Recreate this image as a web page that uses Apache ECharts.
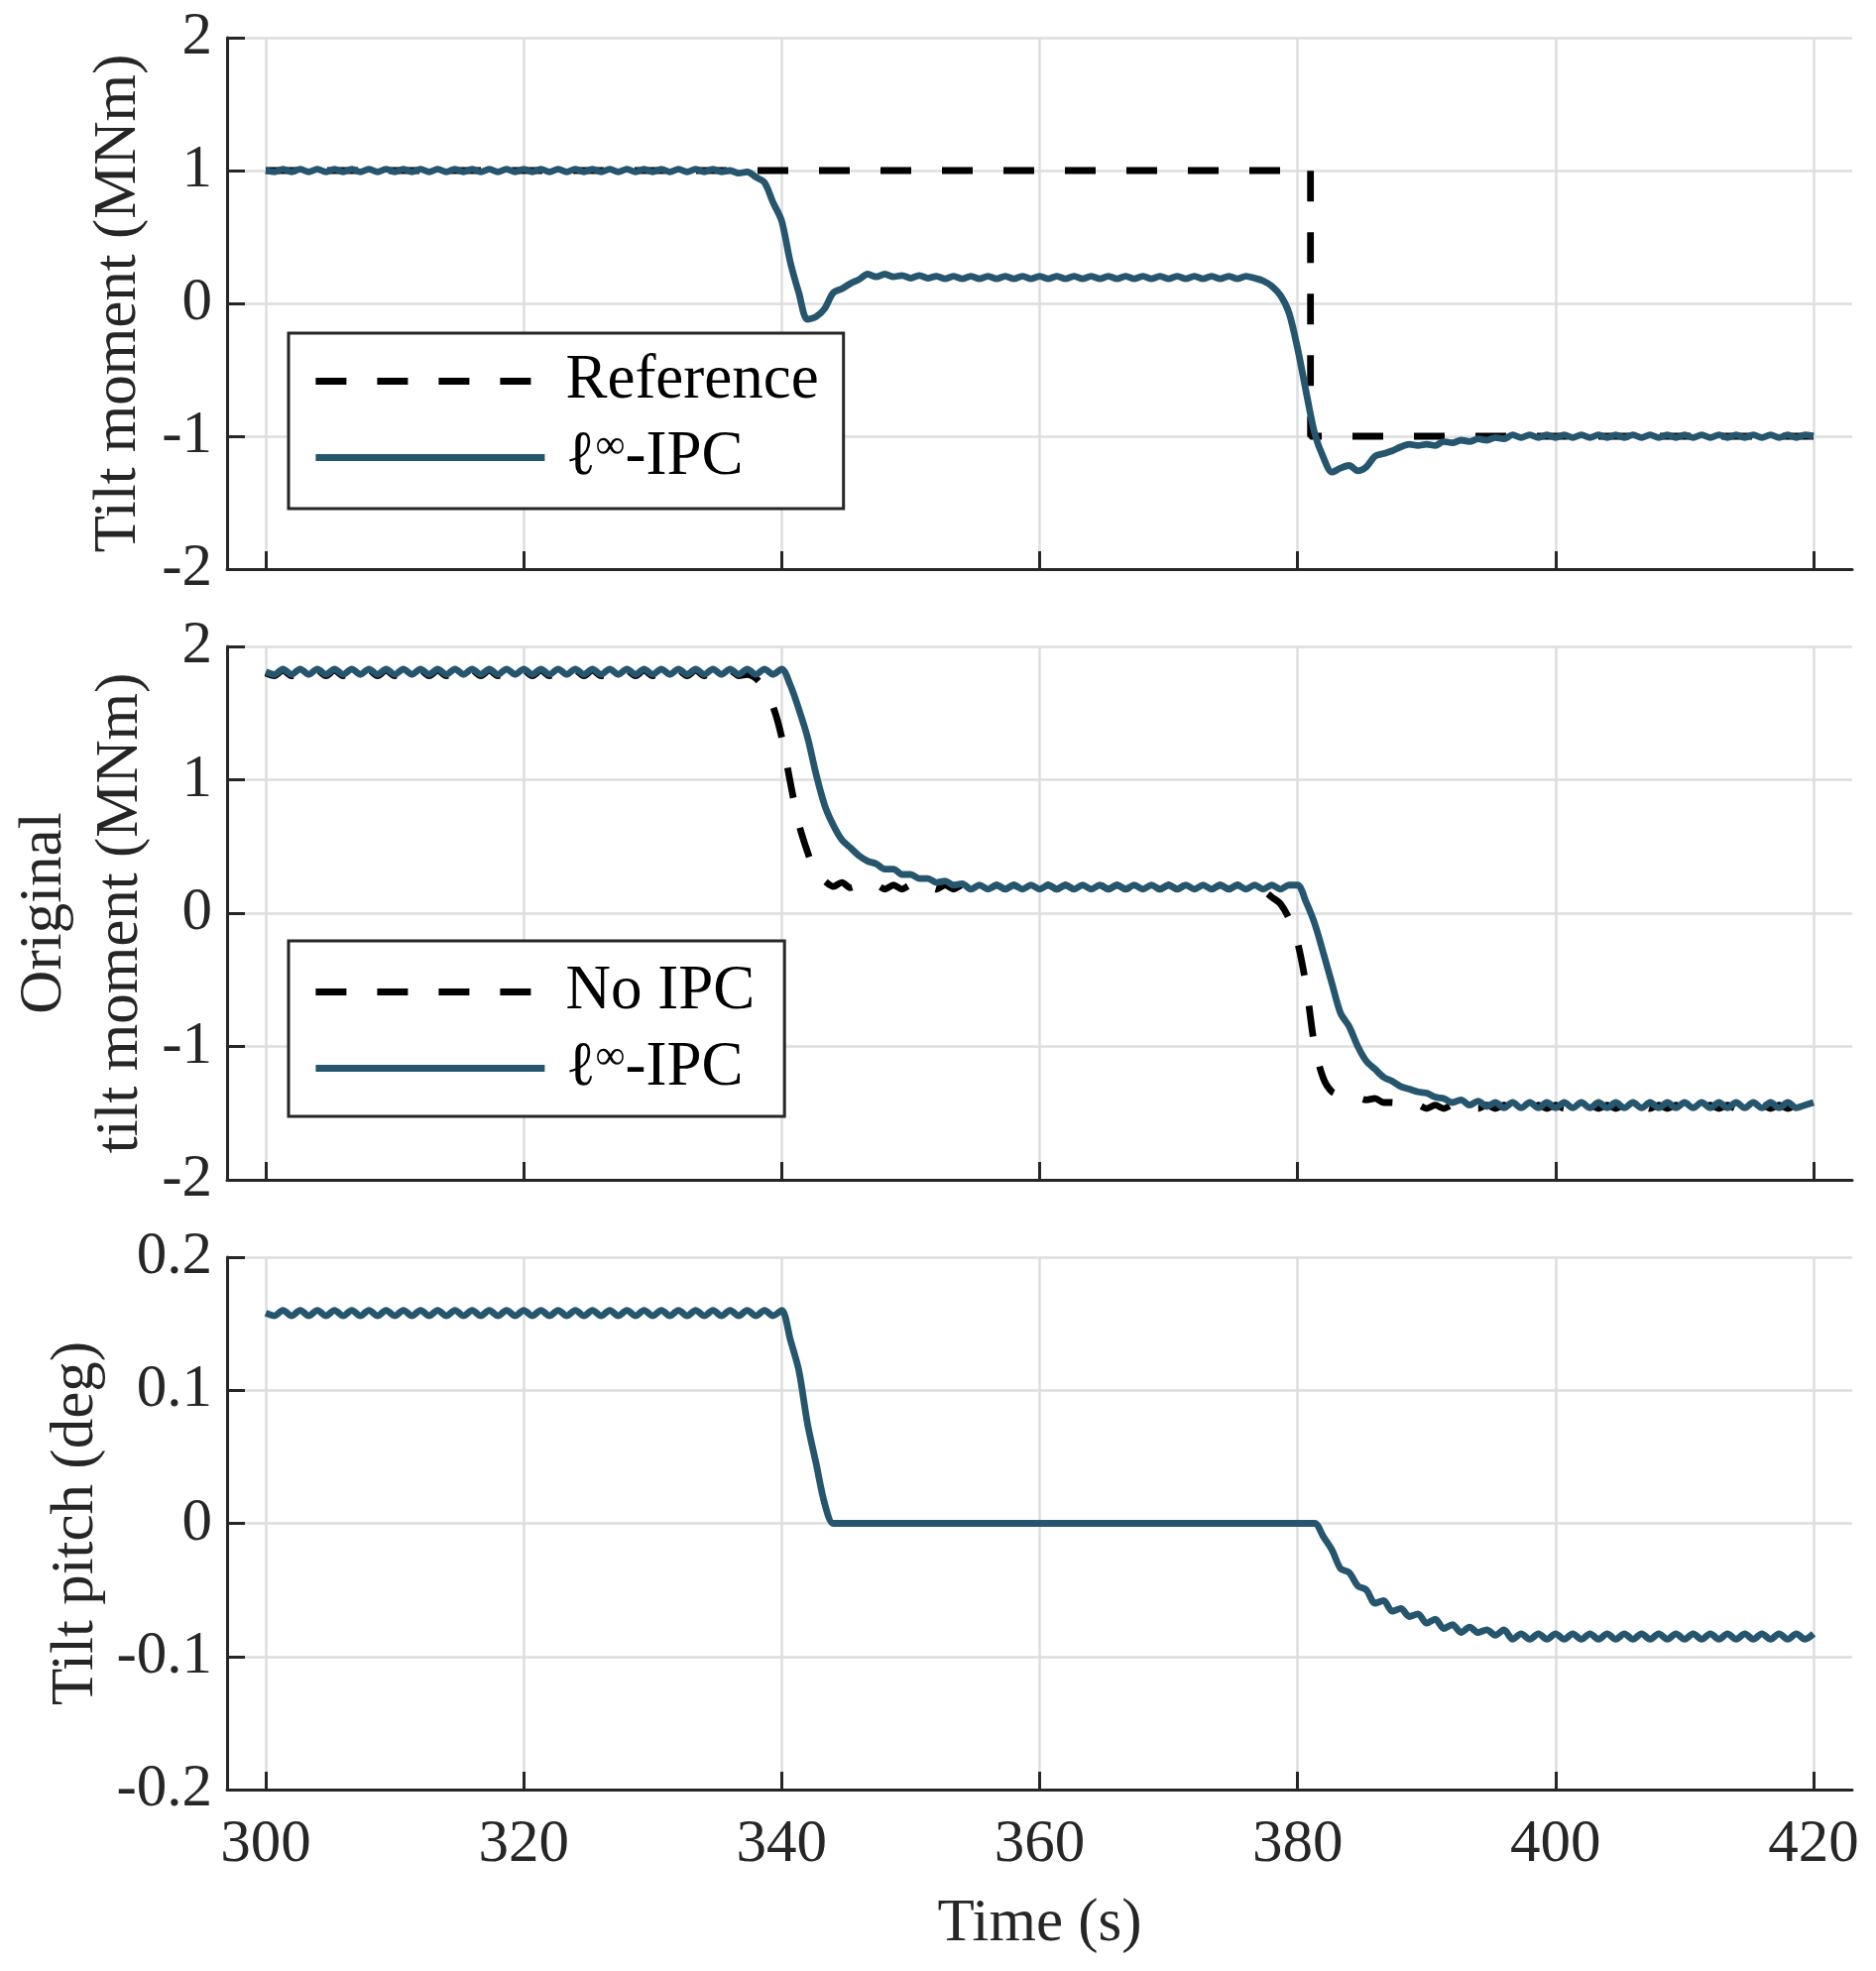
<!DOCTYPE html>
<html><head><meta charset="utf-8">
<script src="https://cdn.jsdelivr.net/npm/echarts@6/dist/echarts.min.js"></script>
<style>html,body{margin:0;padding:0;background:#fff}#c{width:1892px;height:1988px}</style>
</head><body><div id="c"></div>
<script>
// sample times (s)
const time = [
300,300.67,301.33,302,302.67,303.33,304,304.67,305.33,306,306.67,307.33,308,308.67,309.33,310,310.67,311.33,312,312.67,313.33,314,314.67,315.33,316,316.67,317.33,318,318.67,319.33,320,
320.67,321.33,322,322.67,323.33,324,324.67,325.33,326,326.67,327.33,328,328.67,329.33,330,330.67,331.33,332,332.67,333.33,334,334.67,335.33,336,336.67,337.33,338,338.67,339.33,340,
340.67,341.33,342,342.67,343.33,344,344.67,345.33,346,346.67,347.33,348,348.67,349.33,350,350.67,351.33,352,352.67,353.33,354,354.67,355.33,356,356.67,357.33,358,358.67,359.33,360,
360.67,361.33,362,362.67,363.33,364,364.67,365.33,366,366.67,367.33,368,368.67,369.33,370,370.67,371.33,372,372.67,373.33,374,374.67,375.33,376,376.67,377.33,378,378.67,379.33,380,
380.67,381.33,382,382.67,383.33,384,384.67,385.33,386,386.67,387.33,388,388.67,389.33,390,390.67,391.33,392,392.67,393.33,394,394.67,395.33,396,396.67,397.33,398,398.67,399.33,400,
400.67,401.33,402,402.67,403.33,404,404.67,405.33,406,406.67,407.33,408,408.67,409.33,410,410.67,411.33,412,412.67,413.33,414,414.67,415.33,416,416.67,417.33,418,418.67,419.33,420
];
// Panel 1: tilt moment reference (MNm)
const p1RefTime = [300, 381, 381, 420];
const p1RefValue = [1, 1, -1, -1];
// Panel 1: tilt moment with l-inf IPC (MNm)
const p1Ipc = [
1.00,
0.99,1.01,0.99,1.01,0.99,1.01,0.99,1.01,0.99,1.01,
0.99,1.01,0.99,1.01,0.99,1.01,0.99,1.01,0.99,1.01,
0.99,1.01,0.99,1.01,0.99,1.01,0.99,1.01,0.99,1.01,
0.99,1.01,0.99,1.01,0.99,1.01,0.99,1.01,0.99,1.01,
0.99,1.01,0.99,1.01,0.99,1.01,0.99,1.01,0.99,1.01,
0.99,1.01,0.99,
1.00,0.98,0.99,0.95,0.91,0.76,0.62,
0.31,0.08,-0.12,-0.10,-0.04,0.08,0.11,0.15,0.18,0.22,0.20,0.22,0.20,0.21,0.19,0.21,0.19,
0.205,0.185,0.205,0.185,0.205,0.185,0.205,0.185,0.205,0.185,0.205,0.185,0.205,
0.185,0.205,0.185,0.205,0.185,0.205,0.185,0.205,0.185,0.205,0.185,0.205,
0.185,0.205,0.185,0.205,0.185,0.205,0.185,0.205,0.185,0.205,0.185,0.205,
0.19,0.17,0.13,0.06,-0.07,-0.34,
-0.67,-0.98,-1.16,-1.27,-1.24,-1.22,-1.26,-1.23,-1.15,-1.13,-1.11,-1.08,-1.06,-1.07,-1.06,-1.07,-1.04,-1.05,-1.03,-1.04,-1.02,-1.03,-1.01,-1.02,
-0.99,-1.01,-0.99,-1.01,-0.99,-1.01,
-0.99,-1.01,-0.99,-1.01,-0.99,-1.01,-0.99,-1.01,-0.99,-1.01,
-0.99,-1.01,-0.99,-1.01,-0.99,-1.01,-0.99,-1.01,-0.99,-1.01,
-0.99,-1.01,-0.99,-1.01,-0.99,-1.01,-0.99,-1.01,-0.99,-1.00
];
// Panel 2: original tilt moment without IPC (MNm)
const p2NoIpc = [
1.80,
1.78,1.82,1.78,1.82,1.78,1.82,1.78,1.82,1.78,1.82,
1.78,1.82,1.78,1.82,1.78,1.82,1.78,1.82,1.78,1.82,
1.78,1.82,1.78,1.82,1.78,1.82,1.78,1.82,1.78,1.82,
1.78,1.82,1.78,1.82,1.78,1.82,1.78,1.82,1.78,1.82,
1.78,1.82,1.78,1.82,1.78,1.82,1.78,1.82,1.78,1.82,
1.78,1.82,1.78,1.82,
1.78,1.79,1.76,1.68,1.55,1.32,
0.98,0.67,0.46,0.29,0.24,0.20,0.23,0.19,
0.21,0.18,0.21,0.18,0.21,0.18,0.21,0.18,0.21,0.18,0.21,0.18,0.21,0.18,0.21,0.18,0.21,0.18,0.21,0.18,0.21,0.18,
0.21,0.18,0.21,0.18,0.21,0.18,0.21,0.18,0.21,0.18,0.21,0.18,
0.21,0.18,0.21,0.18,0.21,0.18,0.21,0.18,0.21,0.18,0.21,0.18,
0.19,0.17,0.12,0.07,-0.04,-0.22,
-0.55,-1.00,-1.24,-1.34,-1.36,-1.35,-1.38,-1.40,-1.39,-1.42,-1.42,
-1.44,-1.465,-1.44,-1.465,-1.44,-1.465,-1.44,-1.465,-1.44,-1.465,
-1.44,-1.465,-1.44,-1.465,-1.44,-1.465,-1.44,-1.465,-1.44,
-1.465,-1.44,-1.465,-1.44,-1.465,-1.44,-1.465,-1.44,-1.465,-1.44,
-1.465,-1.44,-1.465,-1.44,-1.465,-1.44,-1.465,-1.44,-1.465,-1.44,
-1.465,-1.44,-1.465,-1.44,-1.465,-1.44,-1.465,-1.44,-1.46,-1.43
];
// Panel 2: original tilt moment with l-inf IPC (MNm)
const p2Ipc = [
1.81,
1.79,1.83,1.79,1.83,1.79,1.83,1.79,1.83,1.79,1.83,
1.79,1.83,1.79,1.83,1.79,1.83,1.79,1.83,1.79,1.83,
1.79,1.83,1.79,1.83,1.79,1.83,1.79,1.83,1.79,1.83,
1.79,1.83,1.79,1.83,1.79,1.83,1.79,1.83,1.79,1.83,
1.79,1.83,1.79,1.83,1.79,1.83,1.79,1.83,1.79,1.83,
1.79,1.83,1.79,1.83,1.79,1.83,1.79,1.83,
1.79,1.83,
1.71,1.53,1.32,1.04,0.81,0.66,0.55,0.49,0.43,0.39,0.37,0.33,0.33,0.29,0.29,0.26,0.26,0.23,0.24,0.21,0.22,
0.18,0.21,0.18,0.21,0.18,0.21,0.18,0.21,0.18,
0.21,0.18,0.21,0.18,0.21,0.18,0.21,0.18,0.21,0.18,0.21,0.18,
0.21,0.18,0.21,0.18,0.21,0.18,0.21,0.18,0.21,0.18,0.21,0.18,
0.21,0.18,0.21,0.18,0.21,0.21,
0.08,-0.08,-0.30,-0.53,-0.75,-0.85,-1.00,-1.11,-1.17,-1.23,-1.26,-1.30,-1.32,-1.34,-1.35,-1.38,-1.39,-1.42,-1.40,-1.44,-1.41,-1.45,
-1.42,-1.46,-1.42,-1.46,-1.42,-1.46,-1.42,-1.46,
-1.42,-1.46,-1.42,-1.46,-1.42,-1.46,-1.42,-1.46,-1.42,-1.46,
-1.42,-1.46,-1.42,-1.46,-1.42,-1.46,-1.42,-1.46,-1.42,-1.46,
-1.42,-1.46,-1.42,-1.46,-1.42,-1.46,-1.42,-1.46,-1.44,-1.42
];
// Panel 3: tilt pitch (deg)
const p3Pitch = [
0.158,
0.156,0.160,0.156,0.160,0.156,0.160,0.156,0.160,0.156,0.160,
0.156,0.160,0.156,0.160,0.156,0.160,0.156,0.160,0.156,0.160,
0.156,0.160,0.156,0.160,0.156,0.160,0.156,0.160,0.156,0.160,
0.156,0.160,0.156,0.160,0.156,0.160,0.156,0.160,0.156,0.160,
0.156,0.160,0.156,0.160,0.156,0.160,0.156,0.160,0.156,0.160,
0.156,0.160,0.156,0.160,0.156,0.160,0.156,0.160,
0.156,0.160,
0.138,0.115,0.075,0.045,0.015,0,
0,0,0,0,0,0,0,0,0,0,
0,0,0,0,0,0,0,0,0,0,
0,0,0,0,
0,0,0,0,0,0,0,0,0,0,
0,0,0,0,0,0,0,0,0,0,
0,0,0,0,0,0,0,0,0,0,
0,0,-0.010,-0.020,-0.034,-0.037,-0.047,-0.050,-0.060,-0.058,-0.066,-0.064,-0.070,-0.068,-0.075,-0.072,-0.079,-0.076,-0.082,-0.078,-0.082,-0.080,-0.084,-0.080,
-0.087,-0.083,-0.087,-0.083,-0.087,-0.083,
-0.087,-0.083,-0.087,-0.083,-0.087,-0.083,-0.087,-0.083,-0.087,-0.083,
-0.087,-0.083,-0.087,-0.083,-0.087,-0.083,-0.087,-0.083,-0.087,-0.083,
-0.087,-0.083,-0.087,-0.083,-0.087,-0.083,-0.087,-0.083,-0.087,-0.083
];
const xTickValues = [300, 320, 340, 360, 380, 400, 420];

const FONT = "'Liberation Serif','Times New Roman',serif";
const TXT = '#262626';
const AX = '#262626';
const BLUE = '#25566e';
const GRIDC = '#dedede';
const LW = 6.8;

function pairs(ts, vs) { return ts.map((t, i) => [t, vs[i]]); }

function xAxis(i, showLabels) {
  return {
    type: 'value', gridIndex: i, min: 297, max: 423,
    axisLine: { show: true, onZero: false, lineStyle: { color: AX, width: 3 } },
    axisTick: { show: true, inside: true, length: 18, customValues: xTickValues, lineStyle: { color: AX, width: 3 } },
    axisLabel: { show: showLabels, customValues: xTickValues, margin: 25, fontFamily: FONT, fontSize: 61, color: TXT },
    splitLine: { show: true, lineStyle: { color: GRIDC, width: 2.5 } },
    name: showLabels ? 'Time (s)' : '', nameLocation: 'middle', nameGap: 105, nameMoveOverlap: false,
    nameTextStyle: { fontFamily: FONT, fontSize: 61, color: TXT }
  };
}
function yAxis(i, min, max, interval, name, gap, lh, fmt) {
  return {
    type: 'value', gridIndex: i, min: min, max: max, interval: interval,
    axisLine: { show: true, onZero: false, lineStyle: { color: AX, width: 3 } },
    axisTick: { show: true, inside: true, length: 18, lineStyle: { color: AX, width: 3 } },
    axisLabel: { margin: 15, fontFamily: FONT, fontSize: 61, color: TXT, formatter: fmt },
    splitLine: { show: true, lineStyle: { color: GRIDC, width: 2.5 } },
    name: name, nameLocation: 'middle', nameGap: gap, nameRotate: 90, nameMoveOverlap: false,
    nameTextStyle: { fontFamily: FONT, fontSize: 61, color: TXT, lineHeight: lh }
  };
}
const legendCommon = {
  orient: 'vertical', itemWidth: 231, itemHeight: 14, itemGap: 14,
  backgroundColor: '#fff', borderColor: '#262626', borderWidth: 3, borderRadius: 0,
  selectedMode: false,
  lineStyle: { width: LW },
  itemStyle: { opacity: 0, borderWidth: 0 },
  formatter: function (n) { return n === 'ℓ∞-IPC' ? '{n|ℓ}{s|∞}{n|-IPC}' : '{n|' + n + '}'; },
  textStyle: {
    fontFamily: FONT, fontSize: 63, color: '#000', padding: [0, 0, 0, 16],
    rich: {
      n: { fontFamily: FONT, fontSize: 63, color: '#000' },
      s: { fontFamily: FONT, fontSize: 42, color: '#000', verticalAlign: 'top' }
    }
  }
};
const lineBase = { type: 'line', symbol: 'none', showSymbol: false, animation: false };

const chart = echarts.init(document.getElementById('c'), null, { renderer: 'canvas' });
const option = {
  animation: false,
  backgroundColor: '#fff',
  grid: [
    { left: 229, width: 1639, top: 38, height: 536, outerBoundsMode: 'none', containLabel: false },
    { left: 229, width: 1639, top: 652, height: 538, outerBoundsMode: 'none', containLabel: false },
    { left: 229, width: 1639, top: 1268, height: 537, outerBoundsMode: 'none', containLabel: false }
  ],
  xAxis: [xAxis(0, false), xAxis(1, false), xAxis(2, true)],
  yAxis: [
    yAxis(0, -2, 2, 1, 'Tilt moment (MNm)', 79, 61),
    yAxis(1, -2, 2, 1, 'Original\ntilt moment (MNm)', 69, 77),
    yAxis(2, -0.2, 0.2, 0.1, 'Tilt pitch (deg)', 122, 61, v => String(Math.round(v * 10) / 10))
  ],
  legend: [
    Object.assign({}, legendCommon, { data: ['Reference', 'ℓ∞-IPC'], left: 291, top: 336, padding: [17, 25, 20, 24] }),
    Object.assign({}, legendCommon, { data: ['No IPC', 'ℓ∞-IPC'], left: 291, top: 949, padding: [20, 30, 17, 24] })
  ],
  series: [
    Object.assign({}, lineBase, { name: 'Reference', xAxisIndex: 0, yAxisIndex: 0, data: pairs(p1RefTime, p1RefValue),
      itemStyle: { color: '#000' }, lineStyle: { color: '#000', width: LW, type: [31, 31], cap: 'butt' } }),
    Object.assign({}, lineBase, { name: 'ℓ∞-IPC', xAxisIndex: 0, yAxisIndex: 0, data: pairs(time, p1Ipc), smooth: 0.3,
      itemStyle: { color: BLUE }, lineStyle: { color: BLUE, width: LW } }),
    Object.assign({}, lineBase, { name: 'No IPC', xAxisIndex: 1, yAxisIndex: 1, data: pairs(time, p2NoIpc), smooth: 0.3,
      itemStyle: { color: '#000' }, lineStyle: { color: '#000', width: LW, type: [31, 31], cap: 'butt' } }),
    Object.assign({}, lineBase, { name: 'ℓ∞-IPC', xAxisIndex: 1, yAxisIndex: 1, data: pairs(time, p2Ipc), smooth: 0.3,
      itemStyle: { color: BLUE }, lineStyle: { color: BLUE, width: LW } }),
    Object.assign({}, lineBase, { name: 'Tilt pitch', xAxisIndex: 2, yAxisIndex: 2, data: pairs(time, p3Pitch), smooth: 0.3,
      itemStyle: { color: BLUE }, lineStyle: { color: BLUE, width: LW } })
  ]
};
const lens = [time.length, p1Ipc.length, p2NoIpc.length, p2Ipc.length, p3Pitch.length];
if (lens.some(l => l !== 181)) {
  option.graphic = [{ type: 'text', left: 900, top: 5, style: { text: 'LEN ' + lens.join(','), fontSize: 30, fill: 'red' } }];
}
chart.setOption(option);
</script>
</body></html>
